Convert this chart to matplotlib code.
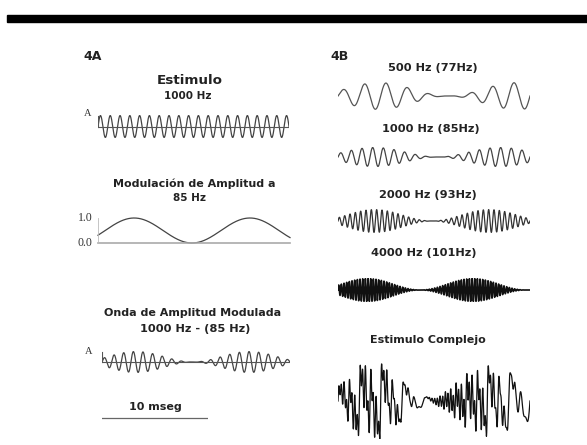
import numpy as np
import matplotlib
matplotlib.use("Agg")
import matplotlib.pyplot as plt
from matplotlib.patches import Rectangle

W, H = 587, 445

# panel 4A: single tone, modulator and AM wave
stim_freq = 1000        # Hz
am_freq = 85            # Hz
mod_min_ms = 9.55       # time of the modulator minimum
am_min_ms = 9.4
span_a_ms = 19.5        # time shown in the 4A traces
scale_bar_ms = 10
mod_ticks = ["1.0", "0.0"]

# panel 4B: four AM tones and their sum
span_b_ms = 18.0
carriers = [500, 1000, 2000, 4000]
mod_freqs = [77, 85, 93, 101]
env_min_ms = [10.3, 9.3, 8.8, 7.7]
wave_titles = ["500 Hz (77Hz)", "1000 Hz (85Hz)", "2000 Hz (93Hz)", "4000 Hz (101Hz)"]
wave_colors = ["#555555", "#444444", "#333333", "#111111"]
wave_widths = [0.9, 0.9, 0.9, 1.2]

FONT = "DejaVu Sans"
SERIF = "Liberation Serif"


def rect(x0, y0, x1, y1):
    return [x0 / W, 1 - y1 / H, (x1 - x0) / W, (y1 - y0) / H]


def label(x, y, s, size=8, **kw):
    kw.setdefault("ha", "center")
    fig.text(x / W, 1 - y / H, s, fontsize=size, fontweight="bold",
             family=FONT, va="center", color="#222222", **kw)


def envelope(t, fm, tmin):
    return 0.5 * (1 - np.cos(2 * np.pi * fm * (t - tmin) / 1000.0))


def wave_axes(x0, x1, yc, half, span, ylim=(-1.05, 1.05)):
    ax = fig.add_axes(rect(x0, yc - half, x1, yc + half))
    ax.set_xlim(0, span)
    ax.set_ylim(*ylim)
    ax.axis("off")
    return ax


fig = plt.figure(figsize=(W / 100, H / 100), dpi=100)
fig.add_artist(Rectangle((7 / W, 1 - 22 / H), 1 - 7 / W, 7 / H,
                         transform=fig.transFigure, color="black"))

ta = np.linspace(0, span_a_ms, 6000)
tb = np.linspace(0, span_b_ms, 8000)

# ---- 4A ----
label(93, 56, "4A", size=9)
label(190, 80, "Estimulo", size=9.7)
label(188, 96, "1000 Hz", size=7.5)
fig.text(88 / W, 1 - 113 / H, "A", fontsize=7.5, family=SERIF,
         ha="center", va="center", color="#333333")

ax = wave_axes(98, 289, 126.5, 11.5, span_a_ms)
ax.plot(ta, np.sin(2 * np.pi * stim_freq * ta / 1000.0), color="#444444", lw=0.9)
ax.plot([0, span_a_ms], [0, 0], color="#555555", lw=0.8)
ax.plot([0, 0], [0, 1.0], color="#555555", lw=0.8)

label(194, 184, "Modulación de Amplitud a", size=8)
label(190, 198, "85 Hz", size=7.5)
ax = wave_axes(98, 290, 230.5, 12.5, span_a_ms, ylim=(0, 1))
mod = envelope(ta, am_freq, mod_min_ms)
ax.plot(ta, mod, color="#444444", lw=0.9, clip_on=False)
ax.plot([0, span_a_ms], [0, 0], color="#aaaaaa", lw=1.2, clip_on=False)
ax.plot([0, 0], [0, 1.0], color="#bbbbbb", lw=0.6, clip_on=False)
for v, s in zip([1.0, 0.0], mod_ticks):
    ax.text(-0.55, v, s, fontsize=8.5, family=SERIF, ha="right", va="center",
            color="#333333")

label(193, 313, "Onda de Amplitud Modulada", size=8)
label(195, 329, "1000 Hz - (85 Hz)", size=8.2)
fig.text(89 / W, 1 - 351 / H, "A", fontsize=7.5, family=SERIF,
         ha="center", va="center", color="#333333")
ax = wave_axes(102, 290, 362, 11, span_a_ms)
am = envelope(ta, am_freq, am_min_ms) * np.sin(2 * np.pi * stim_freq * ta / 1000.0)
ax.plot(ta, am, color="#444444", lw=0.9)
ax.plot([0, span_a_ms], [0, 0], color="#555555", lw=0.8)
ax.plot([0, 0], [0, 1.0], color="#555555", lw=0.8)

label(155, 407, "10 mseg", size=8)
ax = wave_axes(102, 208, 418, 3, scale_bar_ms)
ax.plot([0, scale_bar_ms], [0, 0], color="#666666", lw=0.9)

# ---- 4B ----
label(340, 56, "4B", size=9)
title_x = [433, 431, 428, 424]
title_y = [68, 129, 195, 253]
wave_y = [96, 157, 221, 290]
wave_half = [14, 10, 12, 12]
traces = []
for f, fm, tm, name, tx, ty, wy, hh, c, lw in zip(carriers, mod_freqs, env_min_ms,
                                                    wave_titles, title_x, title_y,
                                                    wave_y, wave_half, wave_colors,
                                                    wave_widths):
    label(tx, ty, name, size=8.2)
    y = envelope(tb, fm, tm) * np.sin(2 * np.pi * f * tb / 1000.0)
    traces.append(y)
    ax = wave_axes(338, 530, wy, hh, span_b_ms)
    ax.plot(tb, y, color=c, lw=lw)

label(428, 340, "Estimulo Complejo", size=8)
total = np.sum(traces, axis=0)
peak = np.abs(total).max()
ax = wave_axes(338, 530, 401, 38, span_b_ms, ylim=(-peak, peak))
ax.plot(tb, total, color="#111111", lw=0.9)

fig.savefig("out.png", dpi=100)
